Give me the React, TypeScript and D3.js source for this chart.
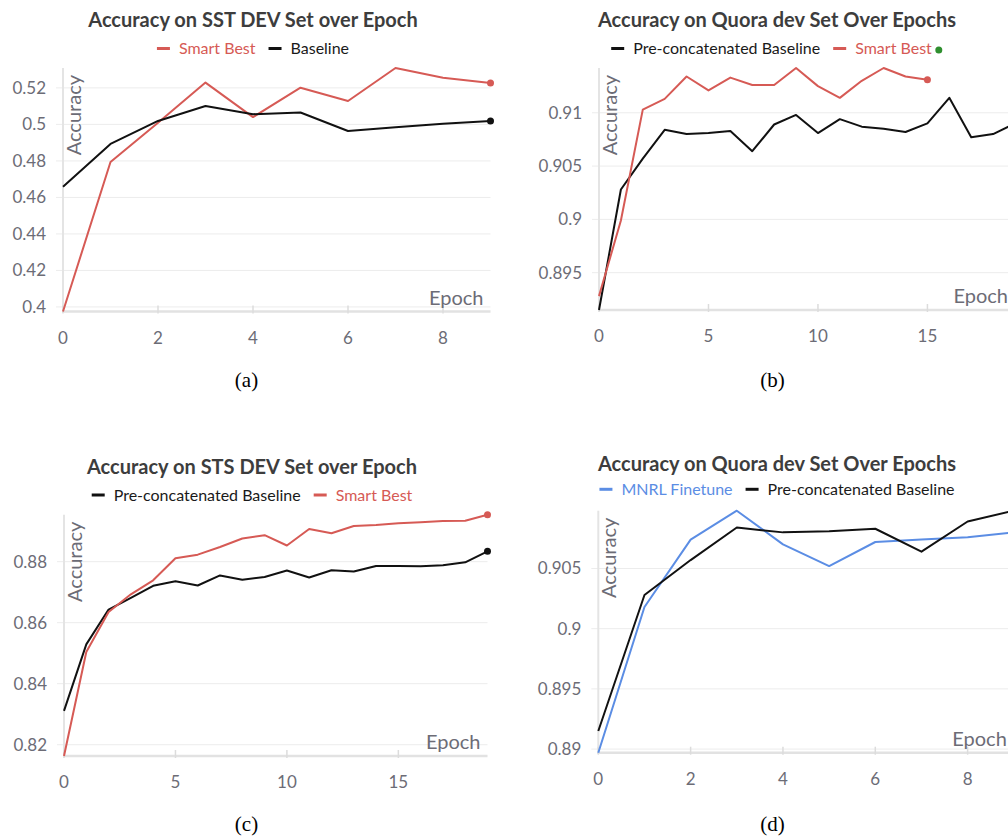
import { useRef, useEffect } from "react";
import { select, scaleLinear, line, extent, max } from "d3";

const W = 1008;
const H = 836;
const SANS = "Lato, 'Noto Sans', sans-serif";
const SERIF = "'Liberation Serif', 'Times New Roman', serif";
const GREY = "#6c6c76";
const RED = "#d65a55";
const BLUE = "#5b8de4";
const BLACK = "#111111";

// (a) SST dev accuracy, epochs 0..9
const sstSmartBest = [0.3975, 0.4794, 0.5009, 0.5229, 0.504, 0.5201, 0.5128, 0.5309, 0.5256, 0.5227];
const sstBaseline = [0.4658, 0.4893, 0.5019, 0.5101, 0.5056, 0.5065, 0.4964, 0.4985, 0.5003, 0.5019];

// (b) Quora dev accuracy
const quoraSmartBest = [
  0.8928, 0.8999, 0.9103, 0.9113, 0.9134, 0.9121, 0.9133, 0.9126, 0.9126, 0.9142,
  0.9125, 0.9114, 0.913, 0.9142, 0.9134, 0.9131,
];
const quoraBaseline = [
  0.8915, 0.9028, 0.9057, 0.9084, 0.908, 0.9081, 0.9083, 0.9064, 0.9089, 0.9098,
  0.9081, 0.9094, 0.9087, 0.9085, 0.9082, 0.909, 0.9114, 0.9077, 0.908, 0.909,
];

// (c) STS dev accuracy
const stsBaseline = [
  0.8311, 0.8529, 0.8643, 0.8681, 0.8721, 0.8736, 0.8722, 0.8755, 0.8741, 0.875,
  0.8771, 0.8748, 0.8772, 0.8768, 0.8786, 0.8786, 0.8785, 0.8788, 0.8798, 0.8834,
];
const stsSmartBest = [
  0.8163, 0.8504, 0.8635, 0.8693, 0.8739, 0.8811, 0.8823, 0.8848, 0.8876, 0.8887,
  0.8853, 0.8907, 0.8893, 0.8917, 0.892, 0.8926, 0.8929, 0.8933, 0.8934, 0.8954,
];

// (d) Quora dev accuracy, MNRL finetune vs first 10 epochs of baseline
const quoraMnrl = [0.8897, 0.9018, 0.9074, 0.9098, 0.907, 0.9052, 0.9072, 0.9074, 0.9076, 0.908];
const quoraBaselineShort = quoraBaseline.slice(0, 10);

const panels = [
  {
    title: "Accuracy on SST DEV Set over Epoch",
    caption: "(a)",
    series: [
      { name: "Smart Best", values: sstSmartBest, color: RED },
      { name: "Baseline", values: sstBaseline, color: BLACK },
    ],
    liveDot: false,
    box: { left: 63, right: 490.5, top: 68, bottom: 311.5 },
    center: 253, titleY: 27, legendY: 48.5, captionX: 246.5, captionY: 387,
    yTicks: 7,
  },
  {
    title: "Accuracy on Quora dev Set Over Epochs",
    caption: "(b)",
    series: [
      { name: "Pre-concatenated Baseline", values: quoraBaseline, color: BLACK },
      { name: "Smart Best", values: quoraSmartBest, color: RED },
    ],
    liveDot: true,
    box: { left: 599, right: 1015, top: 68, bottom: 310 },
    center: 777, titleY: 27, legendY: 48.5, captionX: 772.5, captionY: 387,
    yTicks: 5,
  },
  {
    title: "Accuracy on STS DEV Set over Epoch",
    caption: "(c)",
    series: [
      { name: "Pre-concatenated Baseline", values: stsBaseline, color: BLACK },
      { name: "Smart Best", values: stsSmartBest, color: RED },
    ],
    liveDot: false,
    box: { left: 64, right: 487.5, top: 514.7, bottom: 756 },
    center: 252, titleY: 473.5, legendY: 495, captionX: 246.5, captionY: 831,
    yTicks: 5,
  },
  {
    title: "Accuracy on Quora dev Set Over Epochs",
    caption: "(d)",
    series: [
      { name: "MNRL Finetune", values: quoraMnrl, color: BLUE },
      { name: "Pre-concatenated Baseline", values: quoraBaselineShort, color: BLACK },
    ],
    liveDot: false,
    box: { left: 598.3, right: 1013.8, top: 510.7, bottom: 752.7 },
    center: 777, titleY: 470.5, legendY: 489.3, captionX: 772.5, captionY: 831,
    yTicks: 5,
  },
];

const fmt = (d: number) => String(+d.toFixed(4));

function drawPanel(root: any, p: any) {
  const g = root.append("g").attr("class", "panel");
  const { left, right, top, bottom } = p.box;

  const lastEpoch = max(p.series, (s: any) => s.values.length - 1) as number;
  const x = scaleLinear().domain([0, lastEpoch]).range([left, right]);
  const y = scaleLinear()
    .domain(extent(p.series.flatMap((s: any) => s.values)) as [number, number])
    .range([bottom, top]);

  // grid + y ticks
  const yt = y.ticks(p.yTicks);
  g.selectAll(".grid")
    .data(yt)
    .join("line")
    .attr("class", "grid")
    .attr("x1", left - 7)
    .attr("x2", right)
    .attr("y1", (d: number) => y(d))
    .attr("y2", (d: number) => y(d))
    .attr("stroke", "#ececec")
    .attr("stroke-width", 1);
  g.selectAll(".ylab")
    .data(yt)
    .join("text")
    .attr("class", "ylab")
    .attr("x", left - 17)
    .attr("y", (d: number) => y(d) + 6)
    .attr("text-anchor", "end")
    .style("font-family", SANS)
    .style("font-size", "17px")
    .attr("fill", GREY)
    .text(fmt);

  // axis lines
  g.append("line")
    .attr("x1", left).attr("x2", left)
    .attr("y1", top).attr("y2", bottom + 1)
    .attr("stroke", "#e4e4e4").attr("stroke-width", 2);
  g.append("line")
    .attr("x1", left - 1).attr("x2", right)
    .attr("y1", bottom).attr("y2", bottom)
    .attr("stroke", "#e2e2e2").attr("stroke-width", 2.5);

  // x ticks
  const xt = x.ticks(5);
  g.selectAll(".xtick")
    .data(xt)
    .join("line")
    .attr("class", "xtick")
    .attr("x1", (d: number) => x(d)).attr("x2", (d: number) => x(d))
    .attr("y1", bottom - 6).attr("y2", bottom + 2)
    .attr("stroke", "#dcdcdc").attr("stroke-width", 1.5);
  g.selectAll(".xlab")
    .data(xt)
    .join("text")
    .attr("class", "xlab")
    .attr("x", (d: number) => x(d))
    .attr("y", bottom + 32)
    .attr("text-anchor", "middle")
    .style("font-family", SANS)
    .style("font-size", "17px")
    .attr("fill", GREY)
    .text(fmt);

  // axis titles
  g.append("text")
    .attr("transform", `translate(${left + 18},${top + 7}) rotate(-90)`)
    .attr("text-anchor", "end")
    .style("font-family", SANS)
    .style("font-size", "20px")
    .attr("fill", GREY)
    .text("Accuracy");
  g.append("text")
    .attr("x", right - 7)
    .attr("y", bottom - 7)
    .attr("text-anchor", "end")
    .style("font-family", SANS)
    .style("font-size", "20px")
    .attr("fill", GREY)
    .text("Epoch");

  // lines
  const path = line<number>()
    .x((_, i) => x(i))
    .y((d) => y(d));
  g.selectAll(".series")
    .data(p.series)
    .join("path")
    .attr("class", "series")
    .attr("d", (s: any) => path(s.values))
    .attr("fill", "none")
    .attr("stroke", (s: any) => s.color)
    .attr("stroke-width", 2)
    .attr("stroke-linejoin", "round");
  g.selectAll(".enddot")
    .data(p.series)
    .join("circle")
    .attr("class", "enddot")
    .attr("cx", (s: any) => x(s.values.length - 1))
    .attr("cy", (s: any) => y(s.values[s.values.length - 1]))
    .attr("r", 3.5)
    .attr("fill", (s: any) => s.color);

  // title
  g.append("text")
    .attr("x", p.center)
    .attr("y", p.titleY)
    .attr("text-anchor", "middle")
    .style("font-family", SANS)
    .style("font-size", "20px")
    .style("font-weight", 700)
    .attr("fill", "#3d3d3d")
    .text(p.title);

  // legend, laid out from measured text widths then centred
  const lg = g.append("g");
  let cursor = 0;
  p.series.forEach((s: any, i: number) => {
    if (i > 0) cursor += 13;
    lg.append("line")
      .attr("x1", cursor).attr("x2", cursor + 13)
      .attr("y1", p.legendY).attr("y2", p.legendY)
      .attr("stroke", s.color).attr("stroke-width", 3);
    cursor += 22;
    const t = lg.append("text")
      .attr("x", cursor)
      .attr("y", p.legendY + 5.5)
      .style("font-family", SANS)
      .style("font-size", "16px")
      .attr("fill", s.color === BLACK ? "#1a1a1a" : s.color)
      .text(s.name);
    cursor += (t.node() as SVGTextElement).getComputedTextLength();
  });
  if (p.liveDot) {
    lg.append("circle")
      .attr("cx", cursor + 7)
      .attr("cy", p.legendY + 1.5)
      .attr("r", 3.5)
      .attr("fill", "#2f8f2f");
    cursor += 11;
  }
  lg.attr("transform", `translate(${p.center - cursor / 2},0)`);

  // subfigure caption
  g.append("text")
    .attr("x", p.captionX)
    .attr("y", p.captionY)
    .attr("text-anchor", "middle")
    .style("font-family", SERIF)
    .style("font-size", "21px")
    .attr("fill", "#000")
    .text(p.caption);
}

function App() {
  const svgRef = useRef<SVGSVGElement>(null);

  useEffect(() => {
    const svg = select(svgRef.current);
    svg.selectAll("*").remove();
    panels.forEach((p) => drawPanel(svg, p));
  }, []);

  return (
    <svg
      ref={svgRef}
      width={W}
      height={H}
      style={{ position: "absolute", left: 0, top: 0, background: "#fff", overflow: "hidden" }}
    />
  );
}

export default App;
